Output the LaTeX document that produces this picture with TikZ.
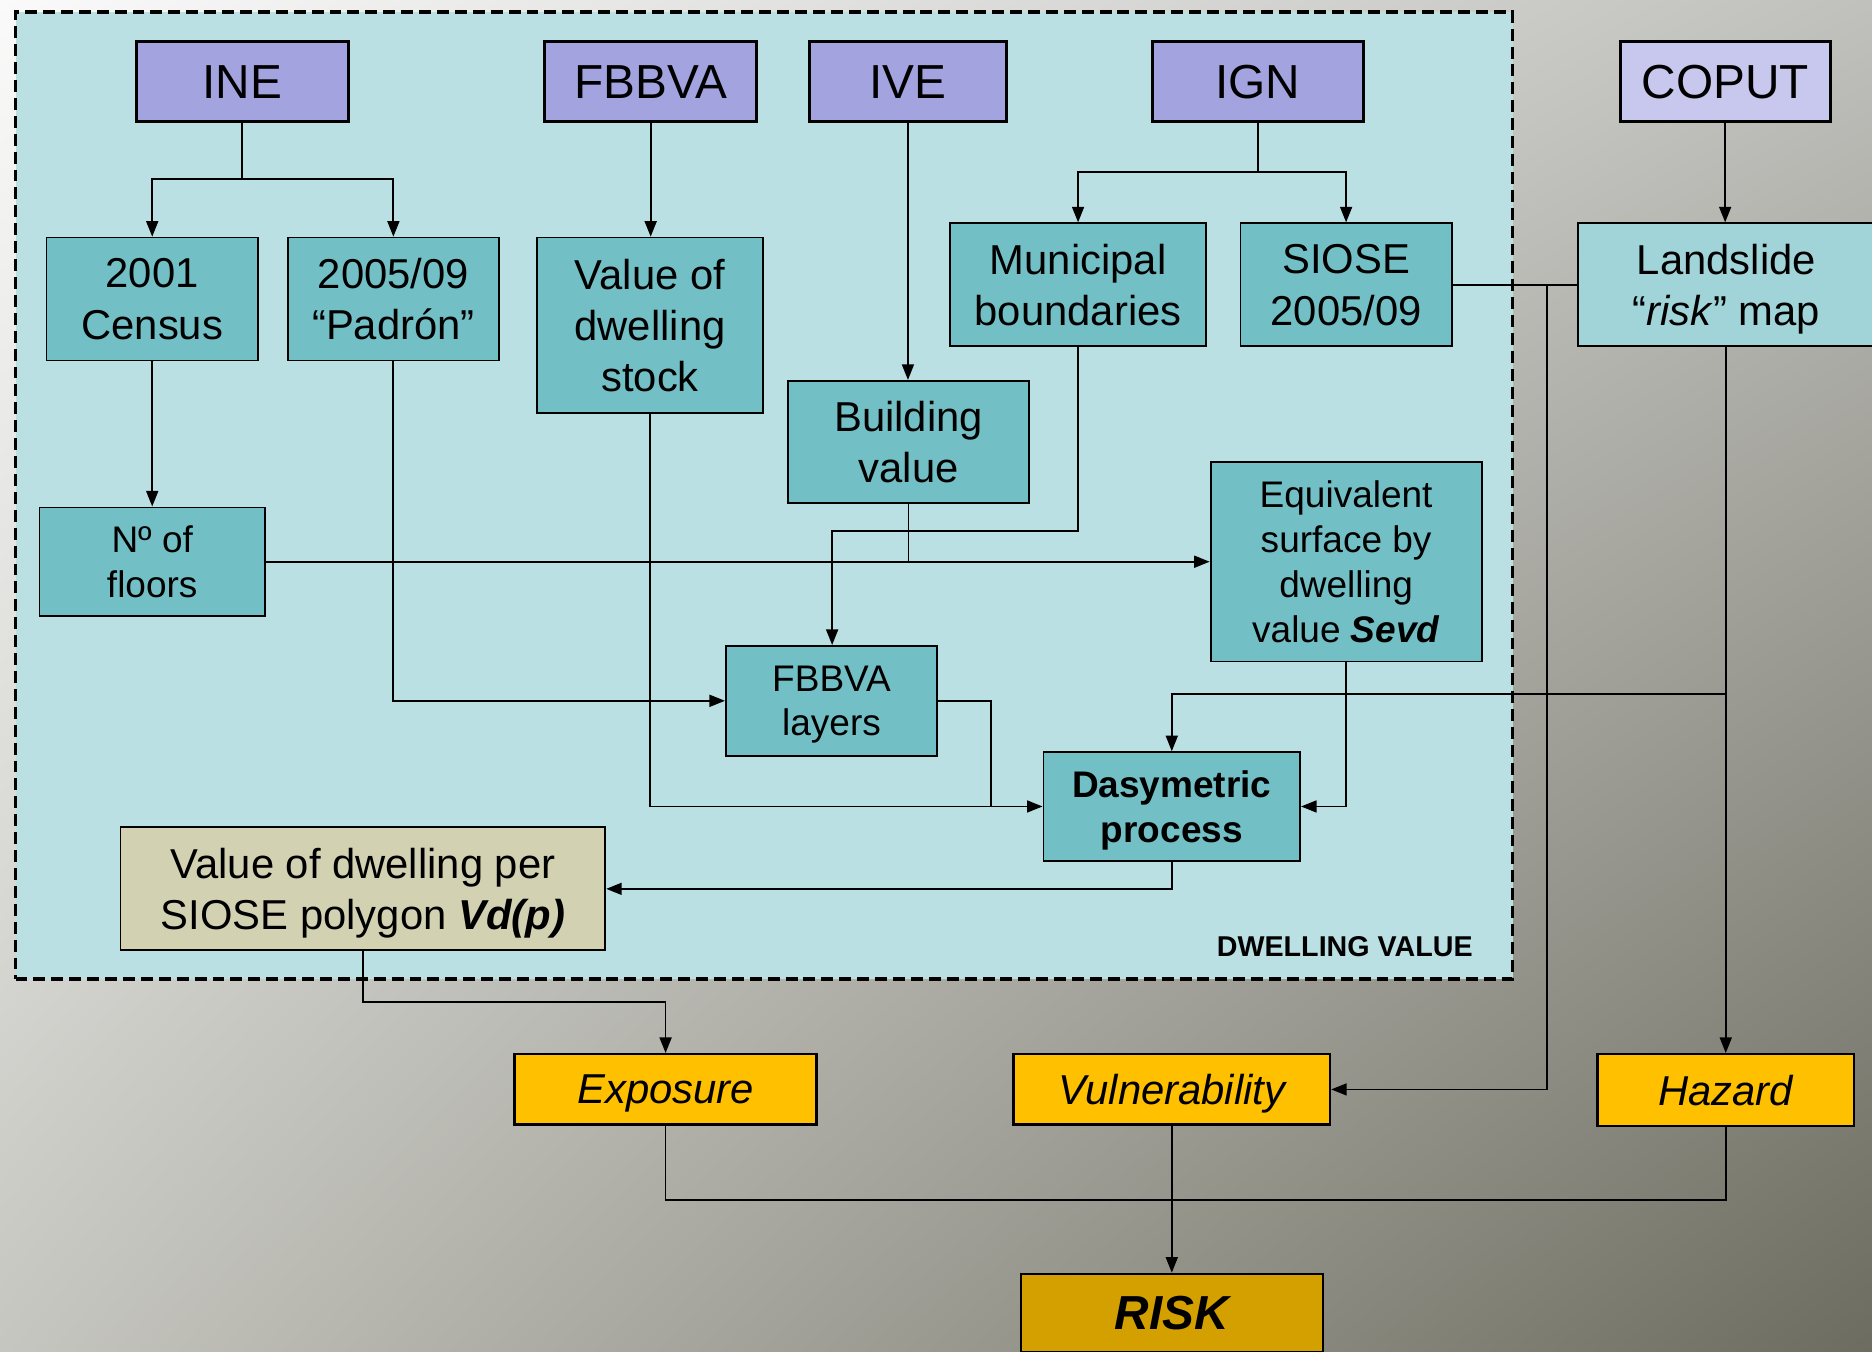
\documentclass[tikz,border=0pt]{standalone}
\usepackage{fontspec}
\setmainfont{Liberation Sans}
\usetikzlibrary{arrows.meta,shadings}
\definecolor{regionfill}{HTML}{BBE0E3}
\definecolor{tealc}{HTML}{72BFC5}
\definecolor{lteal}{HTML}{A0D4D9}
\definecolor{purp}{HTML}{A3A3DF}
\definecolor{lpurp}{HTML}{C8C8EE}
\definecolor{beige}{HTML}{D2D2B2}
\definecolor{orng}{HTML}{FFC000}
\definecolor{gold}{HTML}{D4A000}
\definecolor{bgUL}{HTML}{FAFAFA}
\definecolor{bgUR}{HTML}{C0C0BC}
\definecolor{bgLL}{HTML}{C6C6C0}
\definecolor{bgLR}{HTML}{6C6C60}
\tikzset{
  box/.style={draw=black, line width=1.5pt, inner sep=0pt, align=center, text depth=0pt},
  srcbox/.style={box, fill=purp, line width=2.5pt, font=\fontsize{40}{48}\selectfont},
  tealbox/.style={box, fill=tealc, font=\fontsize{35}{43}\selectfont},
  smallteal/.style={box, fill=tealc, font=\fontsize{31}{37.5}\selectfont},
  riskbox/.style={box, fill=orng, line width=2pt, font=\fontsize{35}{42}\selectfont\itshape},
  conn/.style={line width=1.5pt},
  arr/.style={conn, -{Triangle[length=13pt,width=10pt]}}
}
\begin{document}
\begin{tikzpicture}[x=1pt,y=-1pt]
\clip (0,0) rectangle (1568,1132);
\useasboundingbox (0,0) rectangle (1568,1132);
\shade[upper left=bgUL, upper right=bgUR, lower left=bgLL, lower right=bgLR] (0,0) rectangle (1568,1132);
% region
\node[draw=black, dash pattern=on 10pt off 5pt, line width=3pt, fill=regionfill, minimum width=1254pt, minimum height=810pt, inner sep=0pt] (region) at (640,415) {};
\node[anchor=base east, font=\fontsize{24}{28}\selectfont\bfseries] (dvlabel) at (1237,801) {DWELLING VALUE};
% sources
\node[srcbox, minimum width=178pt, minimum height=67pt] (ine) at (203,68.5) {INE};
\node[srcbox, minimum width=178pt, minimum height=67pt] (fbbva) at (545,68.5) {FBBVA};
\node[srcbox, minimum width=165pt, minimum height=67pt] (ive) at (760.5,68.5) {IVE};
\node[srcbox, minimum width=177pt, minimum height=67pt] (ign) at (1053.5,68.5) {IGN};
\node[srcbox, fill=lpurp, minimum width=176pt, minimum height=67pt] (coput) at (1445,68.5) {COPUT};
% second row
\node[tealbox, minimum width=177pt, minimum height=103pt] (census) at (127.5,250.5) {2001\\Census};
\node[tealbox, minimum width=177pt, minimum height=103pt] (padron) at (329.5,250.5) {2005/09\\“Padrón”};
\node[tealbox, minimum width=189pt, minimum height=147pt] (stock) at (544.5,272.5) {Value of\\dwelling\\stock};
\node[tealbox, minimum width=214pt, minimum height=103pt] (mun) at (903,238.5) {Municipal\\boundaries};
\node[tealbox, minimum width=177pt, minimum height=103pt] (siose) at (1127.5,238.5) {SIOSE\\2005/09};
\node[tealbox, fill=lteal, minimum width=248pt, minimum height=103pt] (land) at (1446,238.5) {Landslide\\“\textit{risk}” map};
\node[tealbox, minimum width=202pt, minimum height=102pt] (building) at (761,370) {Building\\value};
\node[smallteal, minimum width=189pt, minimum height=91pt] (floors) at (127.5,470.5) {Nº of\\floors};
\node[smallteal, minimum width=227pt, minimum height=167pt] (equiv) at (1127.5,470.5) {Equivalent\\surface by\\dwelling\\value \textbf{\textit{Sevd}}};
\node[smallteal, minimum width=177pt, minimum height=92pt] (layers) at (696.5,587) {FBBVA\\layers};
\node[smallteal, minimum width=215pt, minimum height=91pt, font=\fontsize{31}{37.5}\selectfont\bfseries] (dasy) at (981.5,675.5) {Dasymetric\\process};
\node[tealbox, fill=beige, minimum width=406pt, minimum height=103pt] (valper) at (304,744.5) {Value of dwelling per\\SIOSE polygon \textbf{\textit{Vd(p)}}};
% risk components
\node[riskbox, minimum width=253pt, minimum height=59pt] (expo) at (557.5,912.5) {Exposure};
\node[riskbox, minimum width=265pt, minimum height=59pt] (vuln) at (981.5,912.5) {Vulnerability};
\node[riskbox, minimum width=215pt, minimum height=60pt] (haz) at (1445.5,913) {Hazard};
\node[riskbox, fill=gold, minimum width=253pt, minimum height=66pt, font=\fontsize{40}{48}\selectfont\bfseries\itshape] (risk) at (981.5,1100) {RISK};
% junction coordinates
\coordinate (jine) at (203,150);
\coordinate (jign) at (1053.5,144);
\coordinate (jmun) at (697,445);
\coordinate (jlay) at (830,675.5);
\coordinate (jland) at (1445.5,581);
\coordinate (jsiose) at (1296,238.5);
\coordinate (jval) at (557.5,839);
\coordinate (jrisk) at (981.5,1005);
% connectors
\draw[conn] (ine.south) -- (jine);
\draw[arr] (jine) -| (census.north);
\draw[arr] (jine) -| (padron.north);
\draw[arr] (fbbva.south) -- (fbbva.south |- stock.north);
\draw[arr] (ive.south) -- (ive.south |- building.north);
\draw[conn] (ign.south) -- (jign);
\draw[arr] (jign) -| (mun.north);
\draw[arr] (jign) -| (siose.north);
\draw[arr] (coput.south) -- (coput.south |- land.north);
\draw[arr] (census.south) -- (floors.north);
\draw[arr] (floors.east) -- (equiv.west);
\draw[conn] (building.south) -- (building.south |- floors.east);
\draw[arr] (mun.south) |- (jmun) -- (jmun |- layers.north);
\draw[arr] (padron.south) |- (layers.west);
\draw[arr] (stock.south) |- (dasy.west);
\draw[conn] (layers.east) -| (jlay);
\draw[arr] (equiv.south) |- (dasy.east);
\draw[arr] (haz.north |- land.south) -- (haz.north);
\draw[arr] (jland) -| (dasy.north);
\draw[conn] (siose.east) -- (land.west);
\draw[arr] (jsiose) |- (vuln.east);
\draw[arr] (dasy.south) |- (valper.east);
\draw[arr] (valper.south) |- (jval) -- (expo.north);
\draw[conn] (expo.south) |- (jrisk);
\draw[conn] (haz.south) |- (jrisk);
\draw[arr] (vuln.south) -- (risk.north);
\end{tikzpicture}
\end{document}
